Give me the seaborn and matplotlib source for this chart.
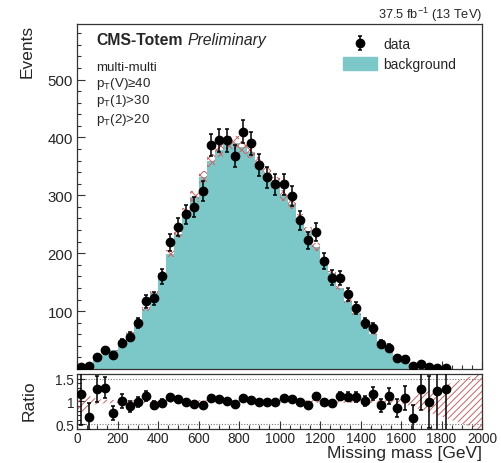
import numpy as np
import pandas as pd
import matplotlib
matplotlib.use("Agg")
import matplotlib.pyplot as plt
import seaborn as sns
from matplotlib.patches import Patch
from matplotlib.ticker import MultipleLocator, FixedLocator

# ---------------- data ----------------
bin_edges = np.arange(0, 2001, 40)            # 50 bins of 40 GeV
bin_centers = (bin_edges[:-1] + bin_edges[1:]) / 2

background = [2.6, 7.5, 15.6, 24.6, 32.5, 44.5, 62, 80, 104, 131,
              165, 199, 234, 270, 298, 332, 360, 378, 391, 391,
              383, 375, 356, 338, 322, 300, 285, 260, 239, 211,
              188, 165, 140, 117, 96, 78, 61, 48, 33, 22,
              16, 9, 6, 3, 1.6, 0.8, 0.4, 0.3, 0.2, 0.1]

bkg_rel_unc = [0.25, 0.12, 0.05, 0.04, 0.035, 0.03, 0.03, 0.03, 0.03, 0.03,
               0.03, 0.03, 0.03, 0.03, 0.03, 0.03, 0.03, 0.03, 0.03, 0.03,
               0.03, 0.03, 0.03, 0.03, 0.03, 0.03, 0.03, 0.03, 0.03, 0.03,
               0.03, 0.03, 0.03, 0.03, 0.035, 0.035, 0.04, 0.04, 0.045, 0.05,
               0.06, 0.12, 0.18, 0.24, 0.30, 0.36, 0.42, 0.48, 0.54, 0.60]

data_counts = [3, 5, 20, 32, 24, 45, 56, 79, 117, 122,
               160, 219, 246, 267, 280, 307, 387, 395, 395, 368,
               410, 390, 352, 331, 319, 319, 299, 257, 222, 236,
               186, 158, 157, 129, 105, 79, 71, 44, 37, 19,
               17, 6, 8, 3, 2, 1]

ratio_values = [1.17, 0.67, 1.28, 1.30, 0.74, 1.01, 0.90, 0.99, 1.12, 0.93,
                0.97, 1.10, 1.05, 0.99, 0.94, 0.93, 1.08, 1.05, 1.01, 0.94,
                1.07, 1.04, 0.99, 0.98, 0.99, 1.07, 1.05, 0.99, 0.93, 1.12,
                0.99, 0.96, 1.12, 1.10, 1.09, 1.01, 1.17, 0.92, 1.12, 0.85,
                1.08, 0.65, 1.27, 0.99, 1.23, 1.28]

main_yticks = [100, 200, 300, 400, 500]
ratio_yticks = [0.5, 1, 1.5]
ratio_yticklabels = ["0.5", "1", "1.5"]
selection_lines = ["multi-multi", r"p$_{T}$(V)≥40", r"p$_{T}$(1)>30", r"p$_{T}$(2)>20"]

# ---------------- style ----------------
sns.set_theme(style="ticks")
plt.rcParams["font.family"] = ["Liberation Sans", "DejaVu Sans"]
plt.rcParams["mathtext.default"] = "regular"
plt.rcParams["hatch.linewidth"] = 0.7

CYAN = "#7cc8c8"
HATCH = "#d06060"

bkg = np.array(background, dtype=float)
unc = np.array(bkg_rel_unc, dtype=float)
dat = np.array(data_counts, dtype=float)
rat = np.array(ratio_values, dtype=float)
dat_x = bin_centers[: len(dat)]

df_bkg = pd.DataFrame({"mass": bin_centers, "events": bkg})

fig = plt.figure(figsize=(5.01, 4.64), dpi=100)
ax = fig.add_axes([0.1537, 0.2026, 0.8084, 0.7435])
axr = fig.add_axes([0.1537, 0.0733, 0.8084, 0.1185])

# ---------------- main panel ----------------
sns.histplot(data=df_bkg, x="mass", weights="events", binwidth=40,
             binrange=(0, 2000), element="step", fill=True, color=CYAN,
             alpha=1.0, linewidth=0, ax=ax, zorder=1)
ax.bar(bin_centers, 2 * unc * bkg, bottom=bkg * (1 - unc), width=40,
       facecolor="none", edgecolor=HATCH, hatch="xxxx", linewidth=0, zorder=2)
data_handle = ax.errorbar(dat_x, dat, yerr=np.sqrt(dat), fmt="o", color="black",
                          ms=6, elinewidth=1.1, capsize=1.6, capthick=1.1, zorder=5)

ax.set_xlim(0, 2000)
ax.set_ylim(0, 596)
ax.set_xlabel("")
ax.set_ylabel("")
ax.yaxis.set_major_locator(FixedLocator(main_yticks))
ax.yaxis.set_minor_locator(MultipleLocator(20))
ax.xaxis.set_major_locator(MultipleLocator(200))
ax.xaxis.set_minor_locator(MultipleLocator(50))
ax.tick_params(which="both", direction="in", top=False, right=False,
               labelbottom=False, labelsize=10.8, pad=3, color="#333333")
ax.tick_params(which="major", length=6, width=0.8)
ax.tick_params(which="minor", length=3, width=0.8)
for s in ax.spines.values():
    s.set_color("#333333")
    s.set_linewidth(0.9)

# texts
t1 = ax.text(0.047, 0.942, "CMS-Totem", transform=ax.transAxes, fontsize=11.3,
             fontweight="bold", ha="left", va="baseline")
ax.annotate("Preliminary", xy=(1, 0), xycoords=t1, xytext=(3.5, 0),
            textcoords="offset points", fontsize=11.3, fontstyle="italic",
            ha="left", va="bottom")
for txt, yy in zip(selection_lines, [0.868, 0.820, 0.770, 0.717]):
    ax.text(0.047, yy, txt, transform=ax.transAxes, fontsize=9.6,
            ha="left", va="baseline")
ax.text(1.0, 1.017, r"37.5 fb$^{-1}$ (13 TeV)", transform=ax.transAxes,
        fontsize=9.2, ha="right", va="baseline")

ax.legend([data_handle, Patch(facecolor=CYAN, edgecolor=CYAN)],
          ["data", "background"], loc="upper left",
          bbox_to_anchor=(0.657, 0.962), frameon=False, fontsize=10,
          handlelength=2.45, handleheight=1.0, handletextpad=0.45,
          labelspacing=0.45, borderpad=0, borderaxespad=0)

fig.text(27 / 501, 0.946, "Events", rotation=90, ha="center", va="top",
         fontsize=12.5)

# ---------------- ratio panel ----------------
band_x = np.r_[0, bin_centers, 2000]
band_u = np.r_[unc[0], unc, unc[-1]]
axr.fill_between(band_x, 1 - band_u, 1 + band_u, facecolor="none",
                 edgecolor=HATCH, hatch="/////", linewidth=0, zorder=1)
axr.axhline(1.5, ls=(0, (1, 1.5)), color="#777777", lw=0.8, zorder=0)
axr.axhline(0.5, ls=(0, (1, 1.5)), color="#777777", lw=0.8, zorder=0)
axr.errorbar(dat_x, rat, yerr=rat / np.sqrt(dat), fmt="o", color="black",
             ms=6, elinewidth=1.1, capsize=1.6, capthick=1.1, zorder=5)
axr.set_xlim(0, 2000)
axr.set_ylim(0.4, 1.6)
axr.set_yticks(ratio_yticks, labels=ratio_yticklabels)
axr.yaxis.set_minor_locator(MultipleLocator(0.1))
axr.xaxis.set_major_locator(MultipleLocator(200))
axr.xaxis.set_minor_locator(MultipleLocator(50))
axr.tick_params(which="both", direction="in", top=False, right=False,
                labelsize=9.8, pad=2, color="#333333")
axr.tick_params(which="major", length=6, width=0.8)
axr.tick_params(which="minor", length=3, width=0.8)
axr.tick_params(axis="x", pad=1.5)
for s in axr.spines.values():
    s.set_color("#333333")
    s.set_linewidth(0.9)

fig.text(29 / 501, 1 - 401 / 464, "Ratio", rotation=90, ha="center",
         va="center", fontsize=12.5)
fig.text(482 / 501, 1 - 446 / 464, "Missing mass [GeV]", ha="right",
         va="top", fontsize=12.5)

fig.savefig("out.png", dpi=100)
